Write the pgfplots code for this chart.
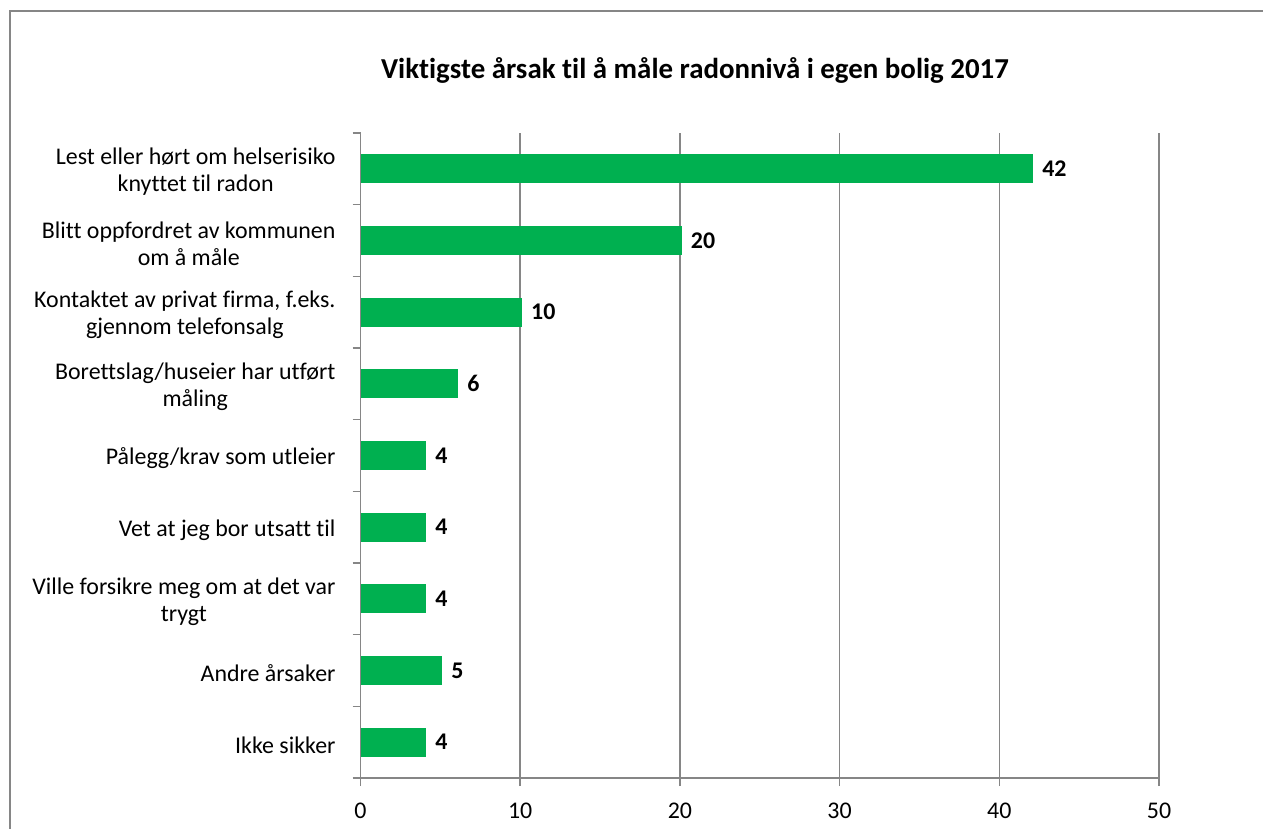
\documentclass[border=0pt]{standalone}
\usepackage{pgfplots}
\pgfplotsset{compat=1.18}
\usepackage{fontspec}
\setmainfont{Carlito}[Ligatures=CommonOff]
\definecolor{bargreen}{HTML}{00B050}
\definecolor{axgray}{HTML}{868686}

\begin{document}
\begin{tikzpicture}[x=1bp,y=1bp]
  \clip (0,0) rectangle (631.5,414);
  \draw[axgray, line width=1bp] (5,-20) rectangle (700,408.5);
  \node[font=\bfseries\fontsize{14.5}{16}\selectfont] at (347.5,379)
    {Viktigste årsak til å måle radonnivå i egen bolig 2017};
  \begin{axis}[at={(180.25bp,25bp)}, anchor=south west,
      width=399.25bp, height=322.5bp, scale only axis,
      xbar, bar width=14bp,
      xmin=0, xmax=50, ymin=-0.5, ymax=8.5, y dir=reverse,
      axis lines*=left,
      axis line style={axgray, line width=0.75bp},
      xmajorgrids, grid style={axgray, line width=0.75bp},
      /pgf/number format/assume math mode=true,
      tick style={draw=axgray, line width=0.75bp},
      xtick={0,10,...,50},
      % ticks sit on the category borders, labels are moved down half a band
      ytick={-0.5,0.5,...,8.5},
      yticklabels={{Lest eller hørt om helserisiko\\knyttet til radon},
        {Blitt oppfordret av kommunen\\om å måle},
        {Kontaktet av privat firma, f.eks.\\gjennom telefonsalg},
        {Borettslag/huseier har utført\\måling},
        {Pålegg/krav som utleier},
        {Vet at jeg bor utsatt til},
        {Ville forsikre meg om at det var\\trygt},
        {Andre årsaker},
        {Ikke sikker},{}},
      tick align=outside, major tick length=4bp,
      ticklabel style={font=\fontsize{12}{13.5}\selectfont},
      yticklabel style={align=center, xshift=-5bp, yshift=-19.4bp},
      xticklabel style={yshift=-5bp},
      nodes near coords,
      nodes near coords style={font=\bfseries\fontsize{12}{13.5}\selectfont, xshift=1.5bp},
    ]
    \addplot[fill=bargreen, draw=bargreen, xshift=0.5bp] coordinates {
      (42,0) (20,1) (10,2) (6,3) (4,4) (4,5) (4,6) (5,7) (4,8)};
  \end{axis}
\end{tikzpicture}
\end{document}
